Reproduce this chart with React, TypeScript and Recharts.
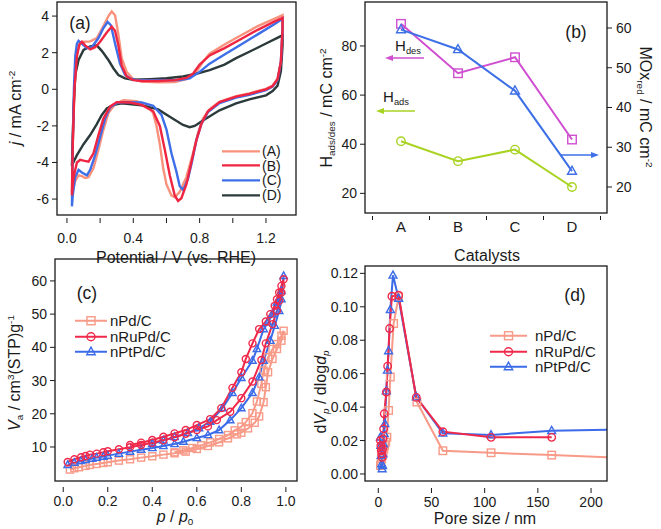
import React from 'react'
import { LineChart, Line, XAxis, YAxis } from 'recharts'

const FONT = '"Liberation Sans", Arial, Helvetica, sans-serif'
const INK = '#1a1a1a'

// ---- (a) cyclic voltammograms, [E / V vs RHE, j / mA cm-2], anodic sweep then cathodic sweep
const cvA = [
  [0.03, -5.6], [0.035, -3.0], [0.045, 0.0], [0.06, 2.0], [0.08, 2.55], [0.1, 2.6], [0.14, 2.62], [0.18, 2.8],
  [0.22, 3.45], [0.25, 4.0], [0.27, 4.25], [0.29, 4.05], [0.31, 3.0], [0.33, 1.7], [0.36, 0.95], [0.4, 0.55],
  [0.45, 0.42], [0.55, 0.38], [0.65, 0.4], [0.72, 0.55], [0.78, 0.95], [0.82, 1.5], [0.86, 1.95], [0.95, 2.45],
  [1.05, 2.95], [1.15, 3.45], [1.25, 3.85], [1.3, 4.05],
  [1.3, 3.4], [1.29, 1.5], [1.27, 0.6], [1.24, 0.2], [1.2, 0.02], [1.1, -0.22], [1.02, -0.38], [0.92, -0.68],
  [0.86, -1.1], [0.82, -1.6], [0.79, -2.4], [0.76, -3.5], [0.72, -4.8], [0.68, -5.6], [0.65, -5.9], [0.63, -5.8],
  [0.6, -5.2], [0.58, -4.3], [0.56, -3.0], [0.54, -2.0], [0.52, -1.3], [0.48, -0.85], [0.42, -0.65], [0.34, -0.6],
  [0.29, -0.8], [0.25, -1.3], [0.22, -2.2], [0.19, -3.3], [0.16, -4.3], [0.13, -4.8], [0.11, -4.85], [0.09, -4.75],
  [0.07, -4.7], [0.05, -5.0], [0.03, -5.6],
]
const cvB = [
  [0.03, -5.8], [0.035, -3.0], [0.045, 0.0], [0.06, 1.8], [0.075, 2.45], [0.09, 2.6], [0.11, 2.4], [0.14, 2.18],
  [0.17, 2.3], [0.2, 2.6], [0.24, 3.1], [0.27, 3.42], [0.29, 3.2], [0.31, 2.4], [0.33, 1.3], [0.36, 0.7],
  [0.4, 0.5], [0.45, 0.45], [0.55, 0.45], [0.65, 0.5], [0.72, 0.62], [0.76, 0.85], [0.8, 1.35], [0.86, 1.85],
  [0.95, 2.25], [1.05, 2.75], [1.15, 3.25], [1.25, 3.7], [1.3, 3.9],
  [1.3, 3.3], [1.29, 1.5], [1.27, 0.55], [1.24, 0.18], [1.2, 0.0], [1.1, -0.25], [1.02, -0.4], [0.92, -0.7],
  [0.85, -1.2], [0.81, -1.9], [0.78, -2.8], [0.75, -4.0], [0.72, -5.2], [0.69, -5.95], [0.67, -6.1], [0.65, -5.8],
  [0.62, -4.7], [0.59, -3.3], [0.56, -2.0], [0.52, -1.2], [0.45, -0.85], [0.38, -0.72], [0.3, -0.7], [0.26, -0.95],
  [0.22, -1.6], [0.19, -2.5], [0.16, -3.5], [0.13, -3.95], [0.1, -3.9], [0.08, -3.85], [0.06, -4.0], [0.04, -4.8],
  [0.03, -5.8],
]
const cvC = [
  [0.03, -6.4], [0.035, -3.0], [0.042, 0.0], [0.05, 1.8], [0.06, 2.5], [0.07, 2.65], [0.09, 2.5], [0.12, 2.25],
  [0.15, 2.3], [0.19, 2.8], [0.22, 3.35], [0.245, 3.68], [0.265, 3.5], [0.29, 2.5], [0.32, 1.4], [0.35, 0.8],
  [0.38, 0.6], [0.42, 0.5], [0.55, 0.5], [0.68, 0.5], [0.74, 0.6], [0.8, 0.95], [0.86, 1.4], [0.95, 1.9],
  [1.05, 2.45], [1.15, 3.0], [1.25, 3.55], [1.3, 3.85],
  [1.3, 3.3], [1.29, 1.5], [1.27, 0.5], [1.24, 0.15], [1.2, -0.05], [1.1, -0.3], [1.02, -0.45], [0.92, -0.75],
  [0.85, -1.25], [0.81, -1.9], [0.78, -2.8], [0.755, -3.9], [0.73, -4.9], [0.7, -5.5], [0.68, -5.3], [0.66, -4.5],
  [0.63, -3.5], [0.6, -2.2], [0.57, -1.4], [0.52, -0.9], [0.45, -0.72], [0.35, -0.7], [0.3, -0.75], [0.26, -1.0],
  [0.23, -1.6], [0.2, -2.6], [0.17, -3.6], [0.14, -4.4], [0.12, -4.7], [0.09, -4.55], [0.07, -4.4], [0.05, -4.8],
  [0.035, -5.8], [0.03, -6.4],
]
const cvD = [
  [0.03, -4.2], [0.04, -1.0], [0.05, 0.8], [0.07, 1.6], [0.1, 2.15], [0.14, 2.35], [0.18, 2.4], [0.21, 2.1],
  [0.25, 1.6], [0.28, 1.15], [0.31, 0.78], [0.35, 0.6], [0.4, 0.52], [0.5, 0.55], [0.6, 0.6], [0.7, 0.7],
  [0.78, 0.85], [0.86, 1.05], [0.95, 1.35], [1.02, 1.7], [1.1, 2.05], [1.2, 2.5], [1.3, 2.95],
  [1.3, 2.4], [1.29, 1.0], [1.27, 0.2], [1.24, -0.1], [1.2, -0.33], [1.1, -0.55], [1.02, -0.77], [0.92, -1.15],
  [0.82, -1.7], [0.77, -2.0], [0.74, -2.07], [0.7, -1.95], [0.62, -1.5], [0.55, -1.1], [0.45, -0.88], [0.33, -0.77],
  [0.28, -0.85], [0.24, -1.05], [0.21, -1.4], [0.18, -1.9], [0.14, -2.5], [0.1, -3.0], [0.06, -3.6], [0.03, -4.15],
]
const cvNames = ['(A)', '(B)', '(C)', '(D)']
const cvColors = ['#f8927c', '#ef2541', '#3e6fe8', '#2c3a3c']
const cvXTicks = [0, 0.2, 0.4, 0.6, 0.8, 1.0, 1.2]
const cvYTicks = [-6, -4, -2, 0, 2, 4]

// ---- (b) charges per catalyst
const catalysts = ['A', 'B', 'C', 'D']
const hDes = [89, 68.9, 75.4, 41.9]
const hAds = [41.2, 33.1, 37.8, 22.6]
const moxRed = [59.6, 54.6, 44.2, 24]

// ---- (c) N2 isotherms, [p/p0, Va]; adsorption then desorption
const pdIso = [
  [0.03, 3.2], [0.05, 3.6], [0.07, 3.9], [0.1, 4.3], [0.12, 4.6], [0.15, 4.9], [0.18, 5.2], [0.2, 5.4], [0.25, 5.9],
  [0.3, 6.3], [0.35, 6.8], [0.4, 7.2], [0.45, 7.7], [0.5, 8.1], [0.55, 8.6], [0.6, 9.4], [0.65, 10.3], [0.7, 11.4],
  [0.74, 12.6], [0.78, 13.8], [0.8, 14.3], [0.83, 15.6], [0.86, 17.3], [0.88, 19.2], [0.9, 23.5], [0.91, 28],
  [0.92, 32.5], [0.94, 36.5], [0.96, 39.5], [0.98, 42], [0.99, 45],
  [0.98, 43.5], [0.96, 41], [0.94, 39.5], [0.92, 37], [0.9, 33], [0.89, 29], [0.87, 23.7], [0.85, 20.2], [0.82, 17.5],
  [0.8, 16.1], [0.77, 15], [0.74, 13.6], [0.7, 12.4], [0.66, 11.4], [0.62, 10.5], [0.58, 9.7], [0.54, 9.0], [0.5, 8.4],
]
const ruIso = [
  [0.02, 5.5], [0.05, 6.3], [0.08, 6.9], [0.1, 7.3], [0.12, 7.7], [0.15, 8.0], [0.18, 8.4], [0.2, 8.7], [0.25, 9.3],
  [0.3, 9.9], [0.35, 10.6], [0.4, 11.3], [0.45, 12.0], [0.5, 12.9], [0.55, 14.0], [0.6, 15.1], [0.65, 16.2],
  [0.69, 18.1], [0.75, 20.6], [0.8, 24.7], [0.85, 29.7], [0.89, 36.2], [0.91, 41.2], [0.94, 47], [0.96, 51],
  [0.97, 54], [0.98, 56.5], [0.99, 60.5],
  [0.98, 58.5], [0.97, 56.5], [0.96, 54.5], [0.95, 52.5], [0.93, 50], [0.91, 47.8], [0.88, 45.5], [0.85, 41.2],
  [0.82, 36.5], [0.8, 32.5], [0.76, 27.8], [0.71, 21.7], [0.66, 18.4], [0.6, 16.6], [0.55, 15.1], [0.5, 14.1],
  [0.45, 13.1], [0.4, 12.1], [0.35, 11.3], [0.3, 10.6],
]
const ptIso = [
  [0.02, 4.6], [0.05, 5.3], [0.08, 5.8], [0.1, 6.1], [0.13, 6.5], [0.15, 6.8], [0.18, 7.1], [0.2, 7.4], [0.25, 8.0],
  [0.3, 8.6], [0.35, 9.2], [0.4, 9.7], [0.45, 10.3], [0.5, 10.9], [0.54, 11.6], [0.6, 12.7], [0.65, 13.6], [0.7, 15.1],
  [0.75, 18.1], [0.8, 21.7], [0.85, 26.3], [0.88, 31], [0.9, 36], [0.93, 42], [0.95, 46.5], [0.97, 51], [0.98, 54.5],
  [0.99, 61.5],
  [0.98, 57], [0.96, 53.5], [0.94, 50], [0.92, 47.5], [0.9, 45.5], [0.87, 39.5], [0.85, 36], [0.8, 30.8],
  [0.76, 26.3], [0.715, 21.7], [0.66, 17.6], [0.61, 15.7], [0.56, 14.2], [0.5, 13.0], [0.45, 12.0], [0.4, 11.0],
]

// ---- (d) pore size distributions, [pore size / nm, dVp/dlogdp]
const pdPsd = [
  [2.0, 0.005], [2.6, 0.007], [3.2, 0.009], [3.8, 0.011], [4.5, 0.013], [5.2, 0.015], [6.0, 0.017], [7.0, 0.019],
  [8.1, 0.022], [9.7, 0.038], [11.3, 0.058], [14.4, 0.09], [19.1, 0.106], [36.3, 0.043], [60.7, 0.0139],
  [106, 0.0127], [163, 0.0113], [215, 0.0100],
]
const ruPsd = [
  [2.0, 0.020], [2.4, 0.017], [2.8, 0.014], [3.2, 0.012], [3.6, 0.010], [4.0, 0.015], [4.4, 0.021], [5.0, 0.027],
  [5.6, 0.036], [7.5, 0.049], [8.8, 0.0645], [10.6, 0.087], [12.8, 0.1063], [19.1, 0.1069], [35.7, 0.0458],
  [60.7, 0.0253], [106, 0.0219], [163, 0.0219],
]
const ptPsd = [
  [2.0, 0.022], [2.4, 0.017], [2.8, 0.011], [3.2, 0.006], [3.6, 0.003], [4.0, 0.005], [4.4, 0.012], [4.9, 0.018],
  [5.5, 0.024], [6.2, 0.030], [7.5, 0.0496], [8.6, 0.062], [9.7, 0.0736], [11.3, 0.0983], [13.8, 0.1188],
  [19.1, 0.105], [35.7, 0.046], [60.7, 0.0243], [106, 0.0233], [163, 0.0259], [215, 0.0265],
]
const sampleNames = ['nPd/C', 'nRuPd/C', 'nPtPd/C']
const sampleColors = ['#f89a88', '#f0284a', '#3b6be8']

type Shape = 'square' | 'circle' | 'triangle'
const toRows = (pts: number[][]) => pts.map(([x, y]) => ({ x, y }))

function Marker({ cx, cy, shape, color, size }: { cx: number; cy: number; shape: Shape; color: string; size: number }) {
  const r = size / 2
  if (shape === 'square') return <rect x={cx - r} y={cy - r} width={size} height={size} fill="none" stroke={color} strokeWidth={1.4} />
  if (shape === 'circle') return <circle cx={cx} cy={cy} r={r} fill="none" stroke={color} strokeWidth={1.4} />
  return <polygon points={`${cx},${cy - r * 1.15} ${cx - r * 1.05},${cy + r * 0.75} ${cx + r * 1.05},${cy + r * 0.75}`} fill="none" stroke={color} strokeWidth={1.4} />
}

const markerDot = (shape: Shape, color: string, size: number, maxX = Infinity) => (p: any) => {
  const key = `${shape}-${p.index}`
  if (p.cx == null || p.cy == null || (p.payload && p.payload.x > maxX)) return <g key={key} />
  return <Marker key={key} cx={p.cx} cy={p.cy} shape={shape} color={color} size={size} />
}

// bottom axis drawn by hand: ticks sit a little below the frame, like the original
const xTick = (gap: number, len: number, dy: number, label: (v: number, i: number) => string | null) => (props: any) => {
  const { x, y, payload, index } = props
  const text = label(payload.value, index)
  return (
    <g>
      <line x1={x} x2={x} y1={y + gap} y2={y + gap + len} stroke={INK} strokeWidth={1} />
      {text != null && (
        <text x={x} y={y + dy} textAnchor="middle" fontSize={14} fill={INK} fontFamily={FONT}>{text}</text>
      )}
    </g>
  )
}

const catTick = (props: any) => {
  const { x, y, payload, index } = props
  const half = 28.5
  return (
    <g>
      <line x1={x - half} x2={x - half} y1={y + 3} y2={y + 7} stroke={INK} />
      {index === catalysts.length - 1 && <line x1={x + half} x2={x + half} y1={y + 3} y2={y + 7} stroke={INK} />}
      <text x={x} y={y + 19} textAnchor="middle" fontSize={15} fill={INK} fontFamily={FONT}>{payload.value}</text>
    </g>
  )
}

const yTickStyle = { fontSize: 14, fill: INK, fontFamily: FONT }

const Sup = ({ children }: { children: React.ReactNode }) => (
  <span style={{ fontSize: '0.62em', position: 'relative', top: '-0.6em' }}>{children}</span>
)
const Sub = ({ children }: { children: React.ReactNode }) => (
  <span style={{ fontSize: '0.62em', position: 'relative', top: '0.3em' }}>{children}</span>
)

function Txt({ x, y, rot = 0, size = 16, children }: { x: number; y: number; rot?: number; size?: number; children: React.ReactNode }) {
  return (
    <div style={{
      position: 'absolute', left: x, top: y, transform: `translate(-50%, -50%) rotate(${rot}deg)`,
      fontSize: size, lineHeight: 1, whiteSpace: 'nowrap', fontFamily: FONT, color: INK,
    }}>{children}</div>
  )
}

type KeyItem = { name: string; color: string; width: number; shape?: Shape }
function KeyList({ left, top, rowH, lineW, gap, size, items }: { left: number; top: number; rowH: number; lineW: number; gap: number; size: number; items: KeyItem[] }) {
  return (
    <div style={{ position: 'absolute', left, top, fontFamily: FONT, fontSize: size, color: INK }}>
      {items.map((it) => (
        <div key={it.name} style={{ display: 'flex', alignItems: 'center', height: rowH }}>
          <svg width={lineW} height={rowH} style={{ display: 'block' }}>
            <line x1={0} x2={lineW} y1={rowH / 2} y2={rowH / 2} stroke={it.color} strokeWidth={it.width} />
            {it.shape && <Marker cx={lineW / 2} cy={rowH / 2} shape={it.shape} color={it.color} size={8} />}
          </svg>
          <span style={{ marginLeft: gap, lineHeight: 1 }}>{it.name}</span>
        </div>
      ))}
    </div>
  )
}

export default function App() {
  const cvSeries = [cvA, cvD, cvC, cvB]
  const cvOrder = [0, 3, 2, 1]
  const bRows = catalysts.map((c, i) => ({ cat: c, hdes: hDes[i], hads: hAds[i], mox: moxRed[i] }))
  const shapes: Shape[] = ['square', 'circle', 'triangle']
  const isoSeries = [pdIso, ruIso, ptIso]
  const psdSeries = [pdPsd, ruPsd, ptPsd]
  const drawOrder = [0, 2, 1]

  const frames = [
    [57, 2, 296, 215],
    [365, 2, 607, 213],
    [55, 259, 297, 481],
    [365, 266, 607, 481],
  ]

  return (
    <div style={{ position: 'absolute', left: 0, top: 0, width: 661, height: 529, background: '#fff', overflow: 'hidden', fontFamily: FONT }}>
      {/* (a) */}
      <div style={{ position: 'absolute', left: 0, top: 0 }}>
        <LineChart width={330} height={260} margin={{ top: 2, right: 34, bottom: 0, left: 0 }}>
          <XAxis type="number" dataKey="x" domain={[-0.06, 1.381]} ticks={cvXTicks} allowDataOverflow interval={0}
            axisLine={false} tickLine={false} tickSize={0} tickMargin={0} height={45}
            tick={xTick(3, 5, 28, (v, i) => (i % 2 === 0 ? v.toFixed(1) : null))} />
          <YAxis type="number" domain={[-6.87, 4.77]} ticks={cvYTicks} allowDataOverflow interval={0}
            axisLine={false} tickSize={5} tickMargin={3} width={57} tick={yTickStyle} tickLine={{ stroke: INK }} />
          {cvOrder.map((k, i) => (
            <Line key={cvNames[k]} data={toRows(cvSeries[i])} dataKey="y" type="linear" stroke={cvColors[k]}
              strokeWidth={2.4} dot={false} isAnimationActive={false} />
          ))}
        </LineChart>
      </div>

      {/* (b) */}
      <div style={{ position: 'absolute', left: 330, top: 0 }}>
        <LineChart width={331} height={260} data={bRows} margin={{ top: 2, right: 0, bottom: 0, left: 0 }}>
          <XAxis dataKey="cat" type="category" padding={{ left: 36, right: 35 }} interval={0}
            axisLine={false} tickLine={false} tickSize={0} tickMargin={0} height={47} tick={catTick} />
          <YAxis yAxisId="l" type="number" domain={[12.0, 97.9]} ticks={[20, 40, 60, 80]} allowDataOverflow interval={0}
            axisLine={false} tickSize={5} tickMargin={3} width={35} tick={yTickStyle} tickLine={{ stroke: INK }} />
          <YAxis yAxisId="r" orientation="right" type="number" domain={[13.46, 66.54]} ticks={[20, 30, 40, 50, 60]}
            allowDataOverflow interval={0} axisLine={false} tickSize={5} tickMargin={4} width={54} tick={yTickStyle}
            tickLine={{ stroke: INK }} />
          <Line yAxisId="l" dataKey="hads" stroke="#a9d322" strokeWidth={2} type="linear" isAnimationActive={false}
            dot={markerDot('circle', '#a9d322', 8.5)} />
          <Line yAxisId="l" dataKey="hdes" stroke="#cf4fd0" strokeWidth={2} type="linear" isAnimationActive={false}
            dot={markerDot('square', '#cf4fd0', 8.5)} />
          <Line yAxisId="r" dataKey="mox" stroke="#3d6fe6" strokeWidth={2} type="linear" isAnimationActive={false}
            dot={markerDot('triangle', '#3d6fe6', 8.5)} />
        </LineChart>
      </div>

      {/* (c) */}
      <div style={{ position: 'absolute', left: 0, top: 259 }}>
        <LineChart width={330} height={270} margin={{ top: 0, right: 33, bottom: 0, left: 0 }}>
          <XAxis type="number" dataKey="x" domain={[-0.037, 1.05]} ticks={[0, 0.2, 0.4, 0.6, 0.8, 1.0]} allowDataOverflow
            interval={0} axisLine={false} tickLine={false} tickSize={0} tickMargin={0} height={48}
            tick={xTick(6, 5, 25, (v) => v.toFixed(1))} />
          <YAxis type="number" domain={[-0.24, 66.6]} ticks={[10, 20, 30, 40, 50, 60]} allowDataOverflow interval={0}
            axisLine={false} tickSize={5} tickMargin={3} width={55} tick={yTickStyle} tickLine={{ stroke: INK }} />
          {drawOrder.map((k) => (
            <Line key={sampleNames[k]} data={toRows(isoSeries[k])} dataKey="y" type="linear" stroke={sampleColors[k]}
              strokeWidth={2} isAnimationActive={false} dot={markerDot(shapes[k], sampleColors[k], 7)} />
          ))}
        </LineChart>
      </div>

      {/* (d) */}
      <div style={{ position: 'absolute', left: 330, top: 259 }}>
        <LineChart width={331} height={270} margin={{ top: 7, right: 54, bottom: 0, left: 0 }}>
          <XAxis type="number" dataKey="x" domain={[-12.5, 215]} ticks={[0, 50, 100, 150, 200]} allowDataOverflow
            interval={0} axisLine={false} tickLine={false} tickSize={0} tickMargin={0} height={48}
            tick={xTick(7, 5, 26, (v) => String(v))} />
          <YAxis type="number" domain={[-0.0042, 0.1244]} ticks={[0, 0.02, 0.04, 0.06, 0.08, 0.1, 0.12]}
            tickFormatter={(v: number) => v.toFixed(2)} allowDataOverflow interval={0}
            axisLine={false} tickSize={5} tickMargin={2} width={35} tick={yTickStyle} tickLine={{ stroke: INK }} />
          {drawOrder.map((k) => (
            <Line key={sampleNames[k]} data={toRows(psdSeries[k])} dataKey="y" type="linear" stroke={sampleColors[k]}
              strokeWidth={2} isAnimationActive={false} dot={markerDot(shapes[k], sampleColors[k], 7.5, 200)} />
          ))}
        </LineChart>
      </div>

      {/* frames and arrows */}
      <svg width={661} height={529} style={{ position: 'absolute', left: 0, top: 0, pointerEvents: 'none' }}>
        {frames.map(([l, t, r, b]) => (
          <rect key={`${l}-${t}`} x={l} y={t} width={r - l} height={b - t} fill="none" stroke={INK} strokeWidth={1.3} />
        ))}
        <line x1={424} y1={58} x2={391} y2={58} stroke="#cf4fd0" strokeWidth={1.5} />
        <polygon points="385,58 393,55 393,61" fill="#cf4fd0" />
        <line x1={415} y1={111} x2={382} y2={111} stroke="#a9d322" strokeWidth={1.5} />
        <polygon points="376,111 384,108 384,114" fill="#a9d322" />
        <line x1={560} y1={155} x2={593} y2={155} stroke="#3d6fe6" strokeWidth={1.5} />
        <polygon points="599,155 591,152 591,158" fill="#3d6fe6" />
      </svg>

      {/* legends */}
      <KeyList left={222} top={143.6} rowH={14.7} lineW={38} gap={2} size={14}
        items={cvNames.map((n, i) => ({ name: n, color: cvColors[i], width: 2.4 }))} />
      <KeyList left={75} top={313} rowH={15.5} lineW={32} gap={3} size={15}
        items={sampleNames.map((n, i) => ({ name: n, color: sampleColors[i], width: 2, shape: shapes[i] }))} />
      <KeyList left={490} top={328} rowH={15.5} lineW={37} gap={8} size={15}
        items={sampleNames.map((n, i) => ({ name: n, color: sampleColors[i], width: 2, shape: shapes[i] }))} />

      {/* axis titles and tags */}
      <Txt x={16} y={108} rot={-90}><i>j</i> / mA cm<Sup>-2</Sup></Txt>
      <Txt x={176} y={258}>Potential / V (vs. RHE)</Txt>
      <Txt x={327} y={108} rot={-90}>H<Sub>ads/des</Sub> / mC cm<Sup>-2</Sup></Txt>
      <Txt x={645} y={107} rot={90}>MOx<Sub>red</Sub> / mC cm<Sup>-2</Sup></Txt>
      <Txt x={487} y={256}>Catalysts</Txt>
      <Txt x={15} y={373} rot={-90}><i>V</i><Sub>a</Sub> / cm<Sup>3</Sup>(STP)g<Sup>-1</Sup></Txt>
      <Txt x={175} y={517}><i>p</i> / <i>p</i><Sub>0</Sub></Txt>
      <Txt x={321} y={392} rot={-90}>d<i>V</i><Sub><i>p</i></Sub> / dlog<i>d</i><Sub><i>p</i></Sub></Txt>
      <Txt x={485} y={519}>Pore size / nm</Txt>
      <Txt x={408} y={46} size={15}>H<Sub>des</Sub></Txt>
      <Txt x={396} y={97} size={15}>H<Sub>ads</Sub></Txt>
      <Txt x={80} y={24} size={17.5}>(a)</Txt>
      <Txt x={576} y={33} size={17.5}>(b)</Txt>
      <Txt x={87} y={294} size={17.5}>(c)</Txt>
      <Txt x={575} y={296} size={17.5}>(d)</Txt>
    </div>
  )
}
